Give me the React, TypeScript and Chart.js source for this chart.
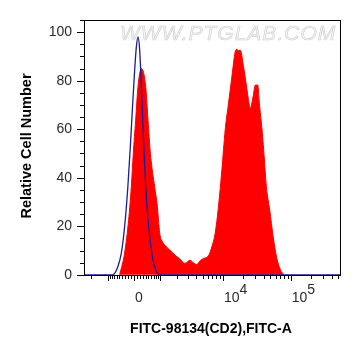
import React, { useEffect, useRef } from "react";
import { Chart, registerables } from "chart.js";

Chart.register(...registerables);

// Histogram bins on the display (biexponential) axis, in decade units
const redX = [2.48, 2.553, 2.612, 2.652, 2.681, 2.716, 2.75, 2.8, 2.864, 2.898, 2.933, 2.997, 3.031, 3.071, 3.111, 3.17, 3.219, 3.3, 3.367, 3.441, 3.516, 3.565, 3.615, 3.665, 3.713, 3.787, 3.837, 3.886, 3.935, 3.985, 4.034, 4.083, 4.133, 4.182, 4.207, 4.231, 4.256, 4.305, 4.364, 4.404, 4.444, 4.479, 4.513, 4.542, 4.578, 4.612, 4.641, 4.69, 4.741, 4.79, 4.849, 4.898];
const redY = [0, 8.9, 22.5, 36.3, 50, 63.7, 77.5, 85, 77.5, 63.7, 50, 36, 29.4, 17, 13.6, 11.5, 10.2, 8, 6.5, 4.7, 6, 5, 4.2, 5.8, 6.7, 7.8, 11.5, 17, 28, 43, 59.6, 70.6, 81.6, 91.9, 92.9, 92.3, 92.6, 85.7, 74.7, 68.6, 73.3, 78.2, 78.2, 69.3, 59.6, 47.3, 36.3, 26.7, 15.7, 7.4, 2, 0];

const blueX = [1.955, 2.379, 2.453, 2.504, 2.553, 2.601, 2.637, 2.667, 2.701, 2.726, 2.75, 2.775, 2.8, 2.824, 2.849, 2.883, 2.923, 2.963, 3.012, 3.071, 5.74];
const blueY = [0, 0, 3.3, 8.8, 19.8, 36.3, 52.7, 67.9, 84.3, 93.9, 98, 92.6, 77.5, 61, 44.5, 28, 15.7, 7.4, 2, 0, 0];

const yMajorTicks = [0, 20, 40, 60, 80, 100];
const yMinorTicks = [5, 10, 15, 25, 30, 35, 45, 50, 55, 65, 70, 75, 85, 90, 95, 105];

const xMajorValues = [-1000, 0, 1000, 10000, 100000];
const xMinorValues = [
  -3000, -2000, -900, -800, -700, -600, -500, -400, -300, -200, -100,
  100, 200, 300, 400, 500, 600, 700, 800, 900,
  2000, 3000, 4000, 5000, 6000, 7000, 8000, 9000,
  20000, 30000, 40000, 50000, 60000, 70000, 80000, 90000,
  200000, 300000, 400000, 500000,
];
const xLabelValues = [0, 10000, 100000];
const xLabelBase = ["0", "10", "10"];
const xLabelExp = ["", "4", "5"];

const X_MIN = 1.955;
const X_MAX = 5.74;
const Y_MIN = -0.5;
const Y_MAX = 105;

const WIDTH_C = 490;
function toDisplay(v: number): number {
  return Math.log10(WIDTH_C) + Math.asinh(v / (2 * WIDTH_C)) / Math.LN10;
}

const FONT = "'Liberation Sans', Arial, sans-serif";

const customAxes = {
  id: "customAxes",
  beforeDatasetsDraw(chart: any) {
    const { ctx } = chart;
    ctx.save();
    ctx.font = `italic 21px ${FONT}`;
    (ctx as any).letterSpacing = "1px";
    ctx.textAlign = "left";
    ctx.textBaseline = "middle";
    ctx.fillStyle = "#f2f2f2";
    ctx.fillText("WWW.PTGLAB.COM", 120, 34);
    ctx.strokeStyle = "#d0d0d0";
    ctx.lineWidth = 0.6;
    ctx.strokeText("WWW.PTGLAB.COM", 120, 34);
    ctx.restore();
  },
  afterDraw(chart: any) {
    const { ctx, chartArea } = chart;
    const { left, right, top, bottom } = chartArea;
    const xs = chart.scales.x;
    const ys = chart.scales.y;
    ctx.save();
    ctx.strokeStyle = "#000";
    ctx.lineWidth = 1;
    ctx.strokeRect(left + 0.5, top + 0.5, right - left - 1, bottom - top - 1);

    // Y ticks
    ctx.beginPath();
    for (const v of yMajorTicks) {
      const py = Math.round(ys.getPixelForValue(v)) + 0.5;
      ctx.moveTo(left - 7, py);
      ctx.lineTo(left + 1, py);
    }
    for (const v of yMinorTicks) {
      if (v > Y_MAX) continue;
      const py = Math.round(ys.getPixelForValue(v)) + 0.5;
      ctx.moveTo(left - 4, py);
      ctx.lineTo(left + 1, py);
    }
    // X ticks
    for (const v of xMajorValues) {
      const px = Math.round(xs.getPixelForValue(toDisplay(v))) + 0.5;
      ctx.moveTo(px, bottom - 1);
      ctx.lineTo(px, bottom + 5);
    }
    for (const v of xMinorValues) {
      const d = toDisplay(v);
      if (d < X_MIN || d > X_MAX) continue;
      const px = Math.round(xs.getPixelForValue(d)) + 0.5;
      ctx.moveTo(px, bottom - 1);
      ctx.lineTo(px, bottom + 3);
    }
    ctx.stroke();

    // Y labels
    ctx.fillStyle = "#2a2a2a";
    ctx.font = `14px ${FONT}`;
    ctx.textAlign = "right";
    ctx.textBaseline = "middle";
    for (const v of yMajorTicks) {
      ctx.fillText(String(v), 72, ys.getPixelForValue(v));
    }

    // X labels
    ctx.textAlign = "left";
    ctx.textBaseline = "alphabetic";
    xLabelValues.forEach((v, i) => {
      const px = xs.getPixelForValue(toDisplay(v)) + 1;
      ctx.font = `14px ${FONT}`;
      ctx.fillText(xLabelBase[i], px, 301.5);
      if (xLabelExp[i]) {
        const w = ctx.measureText(xLabelBase[i]).width;
        ctx.fillText(xLabelExp[i], px + w, 294);
      }
    });

    // Titles
    ctx.fillStyle = "#000";
    ctx.font = `bold 14px ${FONT}`;
    ctx.textAlign = "center";
    ctx.textBaseline = "middle";
    ctx.fillText("FITC-98134(CD2),FITC-A", 211, 329);
    ctx.save();
    ctx.translate(27, 146);
    ctx.rotate(-Math.PI / 2);
    ctx.font = `bold 14.5px ${FONT}`;
    ctx.fillText("Relative Cell Number", 0, 0);
    ctx.restore();
    ctx.restore();
  },
};

export default function App() {
  const ref = useRef<HTMLCanvasElement | null>(null);
  useEffect(() => {
    document.body.style.margin = "0";
    const canvas = ref.current;
    if (!canvas) return;
    const chart = new Chart(canvas, {
      type: "line",
      data: {
        datasets: [
          {
            label: "Control",
            data: blueX.map((x, i) => ({ x, y: blueY[i] })),
            borderColor: "#1c1c98",
            borderWidth: 1.3,
            fill: false,
            pointRadius: 0,
            cubicInterpolationMode: "monotone",
          },
          {
            label: "FITC-98134(CD2)",
            data: redX.map((x, i) => ({ x, y: redY[i] })),
            borderColor: "#ff0000",
            backgroundColor: "#ff0000",
            borderWidth: 1,
            fill: "origin",
            pointRadius: 0,
            cubicInterpolationMode: "monotone",
          },
        ],
      },
      options: {
        animation: false,
        responsive: false,
        devicePixelRatio: 1,
        layout: { padding: { left: 84, right: 20, top: 20, bottom: 80 } },
        plugins: { legend: { display: false }, tooltip: { enabled: false } },
        scales: {
          x: { type: "linear", min: X_MIN, max: X_MAX, display: false },
          y: { type: "linear", min: Y_MIN, max: Y_MAX, display: false },
        },
      },
      plugins: [customAxes],
    } as any);
    return () => chart.destroy();
  }, []);
  return (
    <div style={{ position: "fixed", left: 0, top: 0, width: 361, height: 356, background: "#fff" }}>
      <canvas ref={ref} width={361} height={356} style={{ width: 361, height: 356, display: "block" }} />
    </div>
  );
}
